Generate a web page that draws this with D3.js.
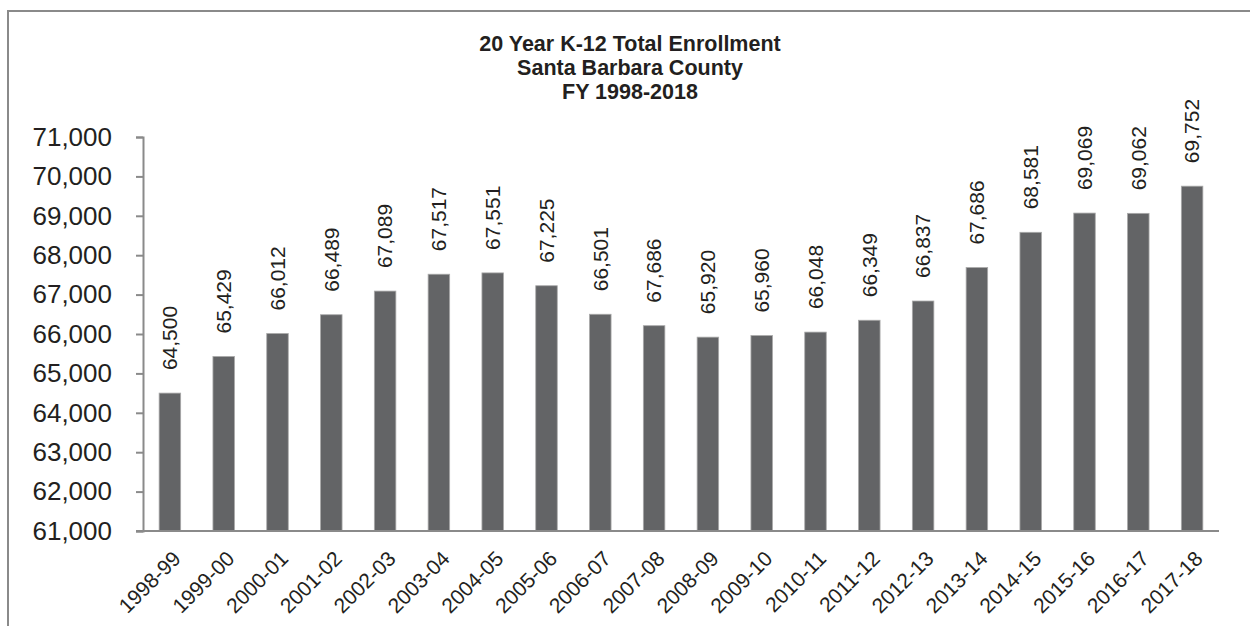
<!DOCTYPE html>
<html>
<head>
<meta charset="utf-8">
<script src="https://cdn.jsdelivr.net/npm/d3@7"></script>
<style>
   body { margin: 0; background: #fff; }
   svg { display: block; font-family: Arial, "Liberation Sans", sans-serif; }
</style>
</head>
<body>
<svg></svg>
<script>
// school years on the x axis
var years = ["1998-99", "1999-00", "2000-01", "2001-02", "2002-03", "2003-04", "2004-05",
   "2005-06", "2006-07", "2007-08", "2008-09", "2009-10", "2010-11", "2011-12",
   "2012-13", "2013-14", "2014-15", "2015-16", "2016-17", "2017-18"];

// bar heights as drawn (2007-08 bar is shorter than its printed label)
var enrollment = [64500, 65429, 66012, 66489, 67089, 67517, 67551, 67225, 66501, 66211,
   65920, 65960, 66048, 66349, 66837, 67686, 68581, 69069, 69062, 69752];

// printed labels above the bars
var barLabels = ["64,500", "65,429", "66,012", "66,489", "67,089", "67,517", "67,551",
   "67,225", "66,501", "67,686", "65,920", "65,960", "66,048", "66,349", "66,837",
   "67,686", "68,581", "69,069", "69,062", "69,752"];

var yTicks = [61000, 62000, 63000, 64000, 65000, 66000, 67000, 68000, 69000, 70000, 71000];

var titleLines = ["20 Year K-12 Total Enrollment", "Santa Barbara County", "FY 1998-2018"];

var width = 1250, height = 626;
var margin = {top: 137, right: 27, bottom: 95, left: 143};

var textColor = "#231f20",
    axisColor = "#8a8a8a",
    barColor = "#636466";

var svg = d3.select("svg")
   .attr("width", width)
   .attr("height", height);

// outer frame (right and bottom edges run off the picture)
svg.append("path")
   .attr("d", "M8,626 V11 H1250")
   .attr("fill", "none")
   .attr("stroke", axisColor)
   .attr("stroke-width", 2);

var x = d3.scaleBand()
   .domain(years)
   .range([margin.left, width - margin.right - 4])
   .paddingInner(0.6)
   .paddingOuter(0.3);

var y = d3.scaleLinear()
   .domain([61000, 71000])
   .range([height - margin.bottom, margin.top]);

// title
svg.append("text")
   .attr("text-anchor", "middle")
   .attr("font-size", 21.5)
   .attr("font-weight", "bold")
   .attr("fill", textColor)
   .selectAll("tspan")
   .data(titleLines)
   .enter().append("tspan")
   .attr("x", 630)
   .attr("y", function(d, i){ return 51 + i * 24; })
   .text(function(d){ return d; });

// bars
svg.append("g")
   .selectAll("rect")
   .data(enrollment)
   .enter().append("rect")
   .attr("x", function(d, i){ return x(years[i]); })
   .attr("y", function(d){ return y(d); })
   .attr("width", x.bandwidth())
   .attr("height", function(d){ return y(61000) - y(d); })
   .attr("fill", barColor)
   .attr("stroke", "#a9a9a9")
   .attr("stroke-width", 0.8);

// value labels, rotated
svg.append("g")
   .selectAll("text")
   .data(enrollment)
   .enter().append("text")
   .attr("transform", function(d, i){
      return "translate(" + (x(years[i]) + x.bandwidth() / 2) + "," + (y(d) - 23) + ") rotate(-90)";
   })
   .attr("dy", "0.35em")
   .attr("font-size", 21)
   .attr("fill", textColor)
   .text(function(d, i){ return barLabels[i]; });

// y axis
var yAxis = svg.append("g")
   .attr("transform", "translate(" + margin.left + ",0)")
   .call(d3.axisLeft(y).tickValues(yTicks).tickFormat(d3.format(",")).tickSize(7).tickPadding(24));
yAxis.select(".domain").attr("stroke", axisColor).attr("stroke-width", 2);
yAxis.selectAll(".tick line").attr("stroke", axisColor).attr("stroke-width", 2);
yAxis.selectAll(".tick text")
   .attr("font-size", 26)
   .attr("font-family", null)
   .attr("fill", textColor);

// x axis line
var xAxis = svg.append("g")
   .attr("transform", "translate(0," + y(61000) + ")")
   .call(d3.axisBottom(x).tickSize(0).tickPadding(0));
xAxis.select(".domain")
   .attr("d", "M" + (margin.left - 7) + ",0 H" + (x.range()[1]))
   .attr("stroke", axisColor)
   .attr("stroke-width", 2);
xAxis.selectAll(".tick text")
   .attr("font-size", 21)
   .attr("font-family", null)
   .attr("fill", textColor)
   .attr("text-anchor", "end")
   .attr("dy", null)
   .attr("y", null)
   .attr("transform", "translate(12,29) rotate(-45)");
</script>
</body>
</html>
